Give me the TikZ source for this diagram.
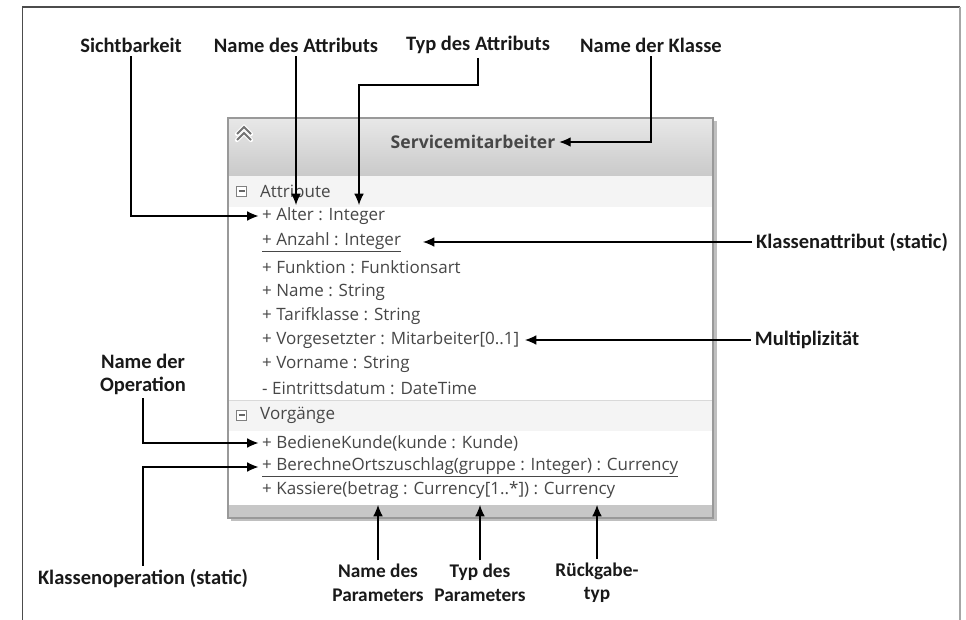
\documentclass[tikz,border=0pt]{standalone}
\usepackage{fontspec}
\setmainfont{Carlito}
\newfontfamily\umlfont{Open Sans}
\usetikzlibrary{arrows.meta}
\begin{document}
\begin{tikzpicture}[x=0.03cm,y=-0.03cm]
		\tikzstyle{legende}=[font=\bfseries\fontsize{17.5}{19.5}\selectfont, align=center, text=black!90]
		\tikzstyle{legende_bas}=[legende, font=\bfseries\fontsize{16.5}{20}\selectfont]
		\tikzstyle{ligne}=[font=\umlfont\fontsize{14.5}{16}\selectfont, text=black!72, anchor=west, inner sep=0pt]
		\tikzstyle{fleche}=[line width=0.9pt, -{Latex[length=3.4mm,width=2.9mm]}]
		\tikzstyle{moins}=[draw=black!50, fill=white, minimum size=10*0.03cm, inner sep=0pt]
		\useasboundingbox (0,0) rectangle (966,620);
		\draw[black!70, line width=0.9pt] (22.5,620) -- (22.5,7) -- (960,7); % cadre
		\draw[black!35, line width=1.5pt] (960,7) -- (960,620);
		% la classe
		\fill[black!25] (231,121) rectangle (717,521);
		\fill[white] (228,118) rectangle (713,518);
		\shade[top color=black!9, bottom color=black!21] (228,118) rectangle (713,176);
		\fill[gray!9] (228,176) rectangle (713,207);
		\fill[gray!9] (228,400) rectangle (713,431);
		\draw[black!15] (228,400) -- (713,400);
		\fill[black!22] (228,505) rectangle (713,518);
		\draw[black!40, line width=1pt] (228,118) rectangle (713,518);
		\foreach \y in {127,133} {
			\draw[white, line width=3.6pt, line cap=round] (237,\y+7) -- (244,\y) -- (251,\y+7);
			\draw[black!55, line width=1.6pt] (237,\y+7) -- (244,\y) -- (251,\y+7);
		}
		\node[font=\umlfont\bfseries\fontsize{15}{17}\selectfont, text=black!72] (klasse) at (473,142) {Servicemitarbeiter};
		\foreach \y in {191,415} {
			\node[moins] at (241.5,\y) {};
			\draw[black!60, line width=0.9pt] (238.5,\y) -- (244.5,\y);
		}
		\node[ligne] (attribute) at (260,191) {Attribute};
		\node[ligne] (alter) at (262,216) {+ Alter : Integer};
		\node[ligne] (anzahl) at (262,242) {\underline{+ Anzahl : Integer}};
		\node[ligne] (funktion) at (262,267) {+ Funktion : Funktionsart};
		\node[ligne] (name) at (262,292) {+ Name : String};
		\node[ligne] (tarif) at (262,316) {+ Tarifklasse : String};
		\node[ligne] (vorgesetzter) at (262,340) {+ Vorgesetzter : Mitarbeiter[0..1]};
		\node[ligne] (vorname) at (262,364) {+ Vorname : String};
		\node[ligne] (eintritt) at (262,388) {- Eintrittsdatum : DateTime};
		\node[ligne] (vorgaenge) at (260,415) {Vorgänge};
		\node[ligne] (bediene) at (262,443) {+ BedieneKunde(kunde : Kunde)};
		\node[ligne] (berechne) at (262,467) {\underline{+ BerechneOrtszuschlag(gruppe : Integer) : Currency}};
		\node[ligne] (kassiere) at (262,490) {+ Kassiere(betrag : Currency[1..*]) : Currency};
		% les legendes
		\node[legende] (sicht) at (131,45) {Sichtbarkeit};
		\node[legende] (nattr) at (296,45) {Name des Attributs};
		\node[legende] (tattr) at (478,45) {Typ des Attributs};
		\node[legende] (nklasse) at (651,45) {Name der Klasse};
		\node[legende] (kattr) at (852,242) {Klassenattribut (static)};
		\node[legende] (multi) at (807,340) {Multiplizität};
		\node[legende] (nop) at (143,374) {Name der\\Operation};
		\node[legende] (kop) at (143,579) {Klassenoperation (static)};
		\node[legende_bas] (npar) at (378,583) {Name des\\Parameters};
		\node[legende_bas] (tpar) at (480,583) {Typ des\\Parameters};
		\node[legende_bas] (rtyp) at (597,583) {Rückgabe-\\typ};
		% les pointes
		\coordinate (nattrpt) at (296,205);
		\coordinate (tattrpt) at (359,205);
		\coordinate (kattrpt) at (423,242);
		\coordinate (multipt) at (525,340);
		\coordinate (nparpt) at (378,505);
		\coordinate (tparpt) at (480,505);
		\coordinate (rtyppt) at (597,505);
		\draw[fleche, shorten >=3pt] (sicht.south) |- (alter.west);
		\draw[fleche] (nattr.south) -- (nattrpt);
		\draw[fleche] (tattr.south) -- (tattr.south |- 0,85) -| (tattrpt);
		\draw[fleche] (nklasse.south) |- (klasse.east);
		\draw[fleche] (kattr.west) -- (kattrpt);
		\draw[fleche] (multi.west) -- (multipt);
		\draw[fleche, shorten >=3pt] (nop.south) |- (bediene.west);
		\draw[fleche, shorten >=3pt] (kop.north) |- (berechne.west);
		\draw[fleche] (npar.north) -- (nparpt);
		\draw[fleche] (tpar.north) -- (tparpt);
		\draw[fleche] (rtyp.north) -- (rtyppt);
	\end{tikzpicture}
\end{document}
